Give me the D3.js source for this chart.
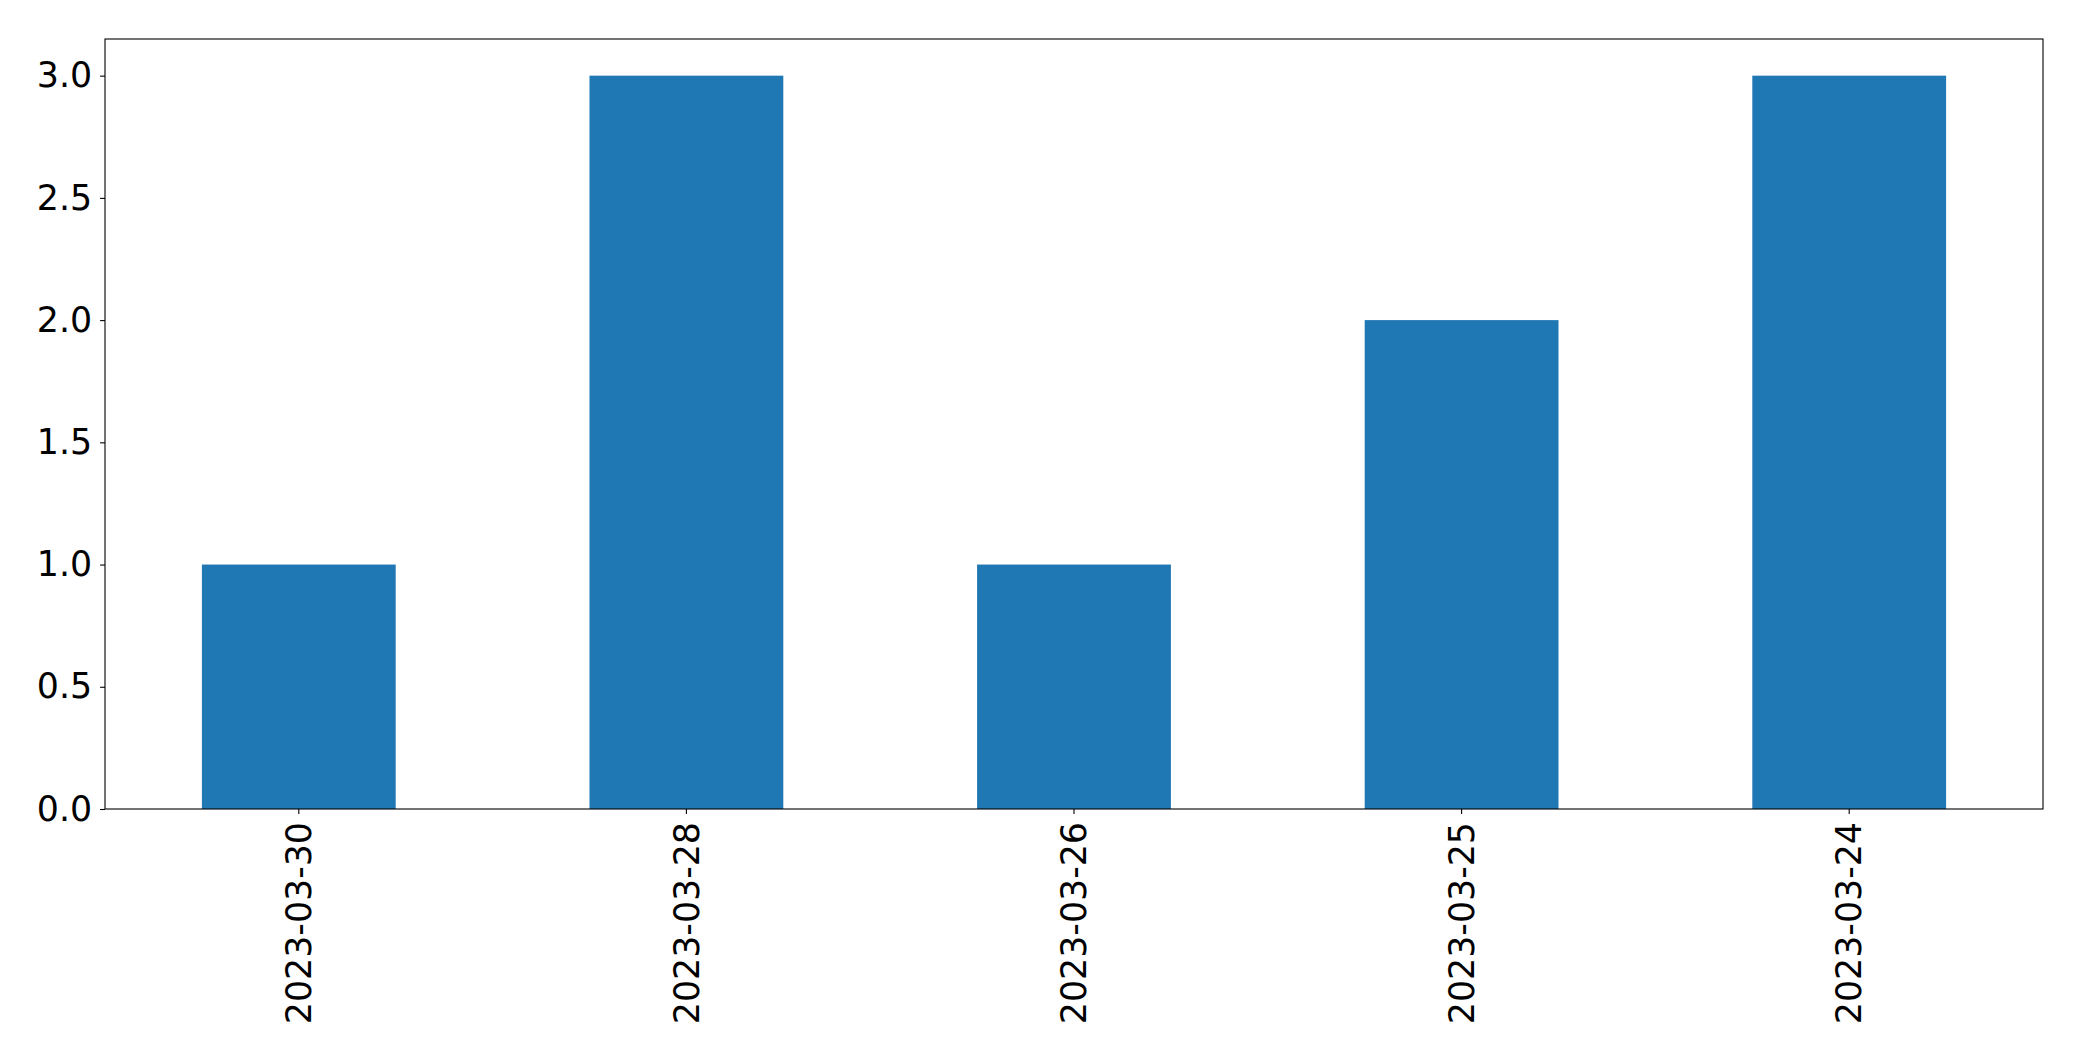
<!DOCTYPE html>
<html><head><meta charset="utf-8">
<script src="https://cdn.jsdelivr.net/npm/d3@7"></script>
<style>html,body{margin:0;padding:0;background:#fff;}</style>
</head><body>
<svg id="chart" width="2082" height="1061"></svg>
<script>
const categories = ["2023-03-30", "2023-03-28", "2023-03-26", "2023-03-25", "2023-03-24"];
const values = [1, 3, 1, 2, 3];
const yTicks = [0, 0.5, 1.0, 1.5, 2.0, 2.5, 3.0];

const W = 2082, H = 1061;
const m = {left: 105, right: W - 2043, top: 39, bottom: H - 809};
const svg = d3.select("#chart");
const iw = W - m.left - m.right, ih = H - m.top - m.bottom;
const g = svg.append("g").attr("transform", `translate(${m.left},${m.top})`);

const x = d3.scaleBand().domain(categories).range([0, iw]).paddingInner(0.5).paddingOuter(0.25);
const y = d3.scaleLinear().domain([0, 3.15]).range([ih, 0]);

g.selectAll("rect.bar").data(values).enter().append("rect")
  .attr("class", "bar")
  .attr("x", (d, i) => x(categories[i]))
  .attr("width", x.bandwidth())
  .attr("y", d => y(d))
  .attr("height", d => ih - y(d))
  .attr("fill", "#1f77b4");

const font = "DejaVu Sans, sans-serif";
const fs = "34.8px";
const yAxis = g.append("g").call(d3.axisLeft(y).tickValues(yTicks).tickFormat(d3.format(".1f")).tickSize(4.9).tickPadding(8));
yAxis.select(".domain").remove();
yAxis.selectAll("line").attr("stroke", "#000").attr("stroke-width", 1.1);
yAxis.selectAll("text").attr("font-family", font).attr("font-size", fs).attr("fill", "#000");

const xAxis = g.append("g").attr("transform", `translate(0,${ih})`).call(d3.axisBottom(x).tickSize(4.9));
xAxis.select(".domain").remove();
xAxis.selectAll("line").attr("stroke", "#000").attr("stroke-width", 1.1);
xAxis.selectAll("text")
  .attr("font-family", font).attr("font-size", fs).attr("fill", "#000")
  .attr("transform", "rotate(-90)")
  .attr("text-anchor", "end")
  .attr("x", -13).attr("y", 0).attr("dy", "0.35em");

g.append("rect").attr("x", 0).attr("y", 0).attr("width", iw).attr("height", ih)
  .attr("fill", "none").attr("stroke", "#000").attr("stroke-width", 1.1);
</script>
</body></html>
